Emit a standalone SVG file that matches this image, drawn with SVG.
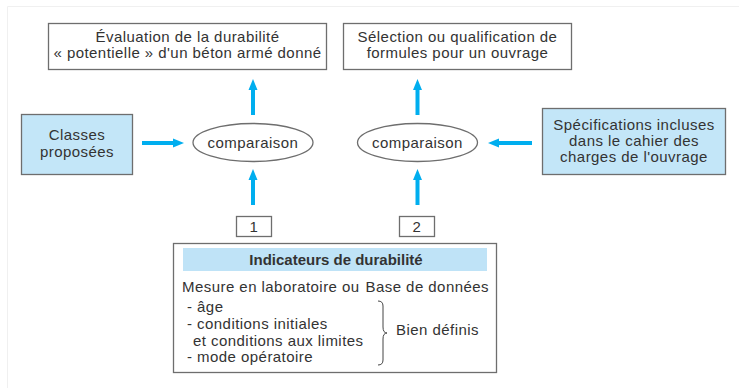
<svg xmlns="http://www.w3.org/2000/svg" width="739" height="388" viewBox="0 0 739 388">
<defs>
<style>
text{font-family:"Liberation Sans",Arial,sans-serif;font-size:15px;letter-spacing:0.45px;fill:#333;}
.c{text-anchor:middle;}
.e{text-anchor:end;}
.b{font-weight:bold;letter-spacing:0;}
.box{fill:#fff;stroke:#6e6e6e;stroke-width:1.3;}
.blue{fill:#c3e6f8;stroke:#6e6e6e;stroke-width:1.3;}
.ell{fill:#fff;stroke:#6e6e6e;stroke-width:1.3;}
.arr{stroke:#00aeef;stroke-width:4;fill:none;}
.head{fill:#00aeef;}
</style>
</defs>
<rect width="739" height="388" fill="#fff"/>
<path d="M7.5 388 V6.5 H739" fill="none" stroke="#f0f0f0" stroke-width="1"/>

<g id="eval">
<rect class="box" x="48.5" y="23.5" width="278" height="46"/>
<text class="c" x="187.5" y="42">Évaluation de la durabilité</text>
<text class="c" x="187.5" y="58">« potentielle » d'un béton armé donné</text>
</g>
<g id="selection">
<rect class="box" x="343.5" y="23.5" width="228" height="46"/>
<text class="c" x="457.5" y="42">Sélection ou qualification de</text>
<text class="c" x="457.5" y="58">formules pour un ouvrage</text>
</g>
<g id="classes">
<rect class="blue" x="21.5" y="114.5" width="111" height="60"/>
<text class="c" x="77" y="140">Classes</text>
<text class="c" x="77" y="157">proposées</text>
</g>
<g id="comp1">
<ellipse class="ell" cx="253" cy="142.5" rx="60" ry="19"/>
<text class="c" x="253" y="147.5">comparaison</text>
</g>
<g id="comp2">
<ellipse class="ell" cx="417.5" cy="142.5" rx="60" ry="19"/>
<text class="c" x="417.5" y="147.5">comparaison</text>
</g>
<g id="specs">
<rect class="blue" x="542.5" y="108.5" width="183" height="66"/>
<text class="c" x="634" y="130">Spécifications incluses</text>
<text class="c" x="634" y="146">dans le cahier des</text>
<text class="c" x="634" y="162">charges de l'ouvrage</text>
</g>
<g id="n1">
<rect class="box" x="236.5" y="216.5" width="35" height="20"/>
<text class="c" x="254" y="232">1</text>
</g>
<g id="n2">
<rect class="box" x="399.5" y="216.5" width="35" height="20"/>
<text class="c" x="417" y="232">2</text>
</g>
<g id="indicateurs">
<rect class="box" x="173.5" y="243.5" width="323" height="129"/>
<rect x="183" y="248" width="304" height="23" fill="#bfe3f7"/>
<text class="c b" x="336" y="265">Indicateurs de durabilité</text>
<text x="182" y="292">Mesure en laboratoire ou</text>
<text class="e" x="489" y="292">Base de données</text>
<text x="187" y="312">- âge</text>
<text x="187" y="329">- conditions initiales</text>
<text x="193" y="346">et conditions aux limites</text>
<text x="187" y="362">- mode opératoire</text>
<path d="M378 301 Q383 301 383 306 V327 Q383 333 387 333 Q383 333 383 339 V360 Q383 365 378 365" fill="none" stroke="#444" stroke-width="1"/>
<text x="396" y="335">Bien définis</text>
</g>

<g id="connectors">
<line class="arr" x1="253" y1="115" x2="253" y2="88"/>
<polygon class="head" points="253,79 248.5,90 257.5,90"/>
<line class="arr" x1="417.5" y1="115" x2="417.5" y2="88"/>
<polygon class="head" points="417.5,79 413,90 422,90"/>
<line class="arr" x1="142" y1="143" x2="174" y2="143"/>
<polygon class="head" points="184,143 173,138.5 173,147.5"/>
<line class="arr" x1="532" y1="143" x2="498" y2="143"/>
<polygon class="head" points="488,143 499,138.5 499,147.5"/>
<line class="arr" x1="253" y1="205" x2="253" y2="178"/>
<polygon class="head" points="253,169 248.5,180 257.5,180"/>
<line class="arr" x1="417.5" y1="205" x2="417.5" y2="178"/>
<polygon class="head" points="417.5,169 413,180 422,180"/>
</g>
</svg>
